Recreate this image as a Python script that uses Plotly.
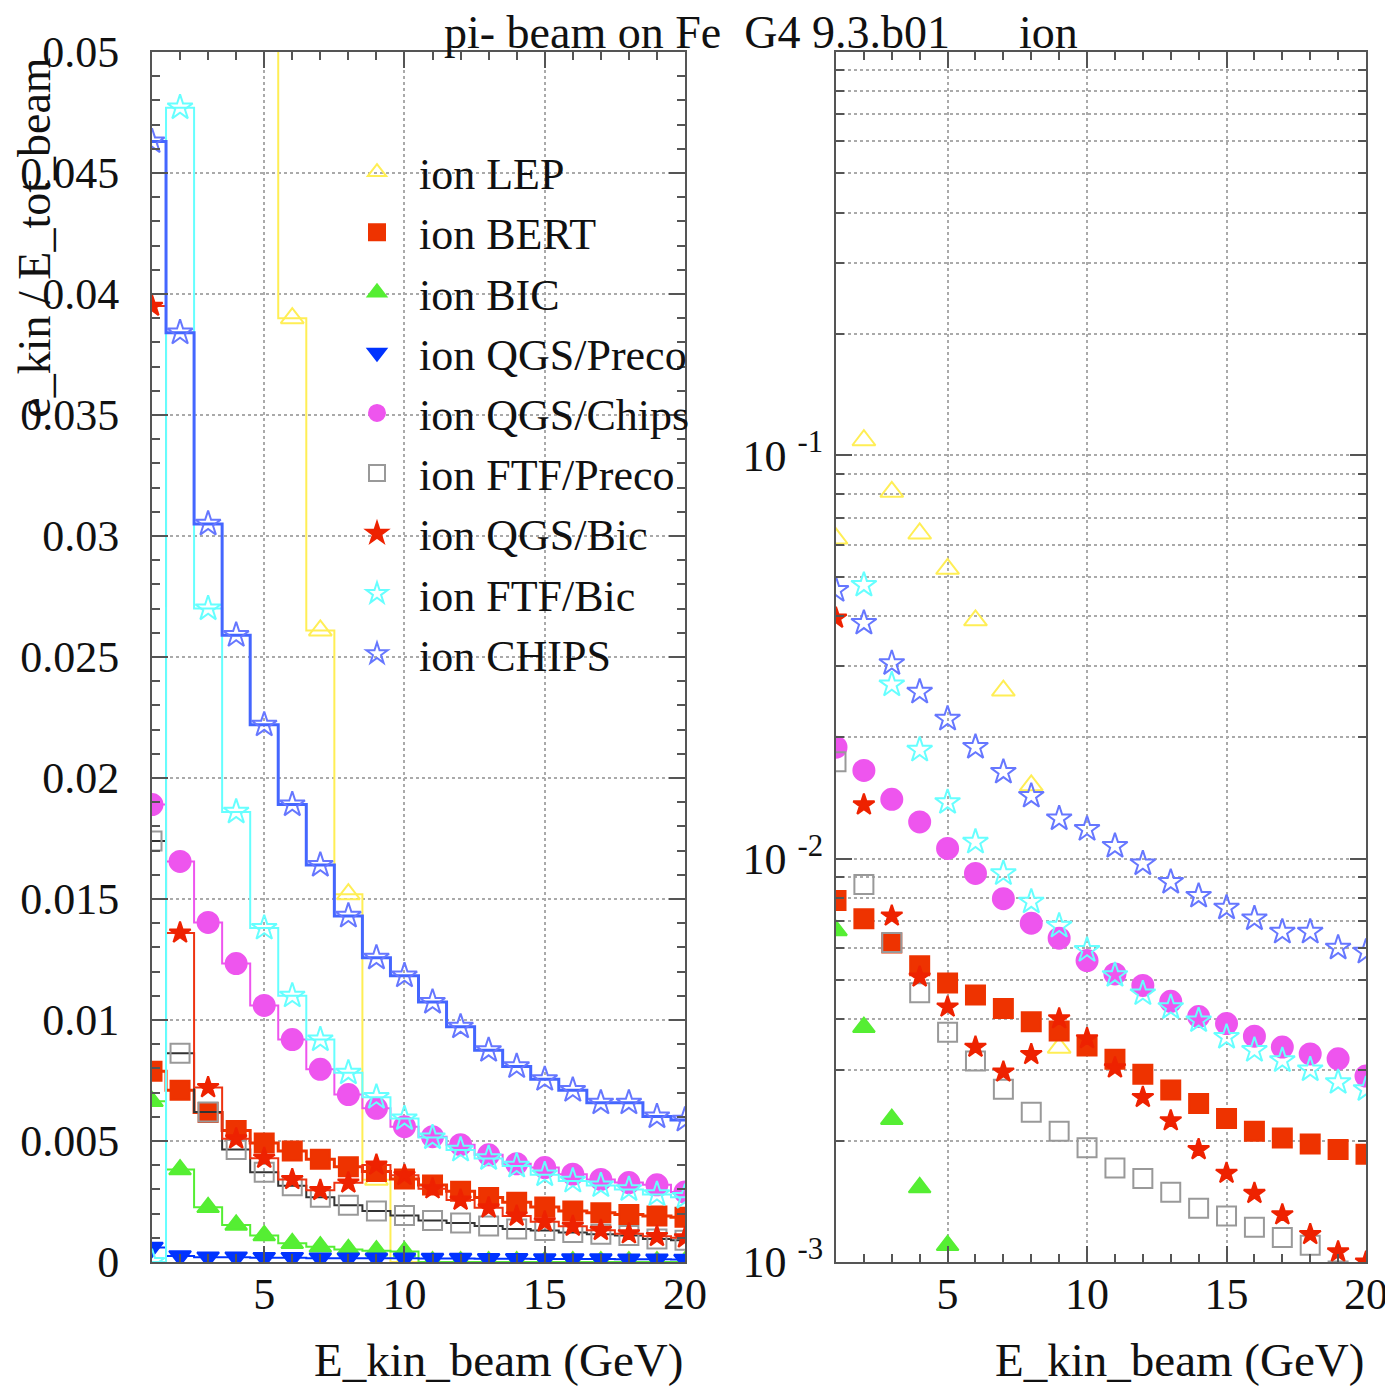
import plotly.graph_objects as go

# ---------------- data ----------------
E_kin = list(range(1, 21))

lep        = [0.0622, 0.109, 0.0812, 0.064, 0.0523, 0.039, 0.0261, 0.0152, 0.0034, 0, 0, 0, 0, 0, 0, 0, 0, 0, 0, 0]
bert       = [0.00788, 0.0071, 0.00618, 0.00543, 0.00492, 0.00459, 0.00425, 0.00394, 0.00374, 0.00343,
              0.00318, 0.00292, 0.00267, 0.00247, 0.00227, 0.00211, 0.00203, 0.00196, 0.0019, 0.00185]
bic        = [0.00664, 0.00382, 0.00226, 0.00153, 0.0011, 0.00077, 0.00063, 0.00052, 0.00047, 0.00043,
              0, 0, 0, 0, 0, 0, 0, 0, 0, 0]
qgs_preco  = [0.0006, 0.00025, 0.0002, 0.0002, 0.00018, 0.00018, 0.00016, 0.00016, 0.00015, 0.00015,
              0.00014, 0.00014, 0.00013, 0.00013, 0.00012, 0.00012, 0.00012, 0.00011, 0.00011, 0.0001]
qgs_chips  = [0.0189, 0.01655, 0.01403, 0.01233, 0.0106, 0.00919, 0.00796, 0.00692, 0.00635, 0.00559,
              0.00518, 0.00485, 0.00443, 0.00406, 0.0039, 0.00363, 0.00341, 0.00328, 0.00319, 0.00289]
ftf_preco  = [0.0174, 0.00863, 0.0062, 0.00465, 0.00371, 0.00315, 0.00268, 0.00235, 0.00211, 0.00192,
              0.00171, 0.00161, 0.00149, 0.00136, 0.0013, 0.00122, 0.00115, 0.0011, 0.00095, 0.0009]
qgs_bic    = [0.0395, 0.0136, 0.00721, 0.00509, 0.00429, 0.00341, 0.00296, 0.00327, 0.00401, 0.00358,
              0.00303, 0.00256, 0.00224, 0.0019, 0.00166, 0.00148, 0.00131, 0.00117, 0.00106, 0.001]
ftf_bic    = [0, 0.0477, 0.027, 0.0186, 0.0138, 0.011, 0.00919, 0.00782, 0.00681, 0.00593,
              0.00514, 0.00463, 0.00428, 0.00397, 0.00361, 0.00335, 0.00316, 0.003, 0.00279, 0.00268]
chips      = [0.0463, 0.0384, 0.0305, 0.0259, 0.0222, 0.0189, 0.0164, 0.0143, 0.01257, 0.01183,
              0.01074, 0.00972, 0.00875, 0.00808, 0.00755, 0.0071, 0.00658, 0.00658, 0.00601, 0.00587]

names = ["ion LEP", "ion BERT", "ion BIC", "ion QGS/Preco", "ion QGS/Chips",
         "ion FTF/Preco", "ion QGS/Bic", "ion FTF/Bic", "ion CHIPS"]
series = [lep, bert, bic, qgs_preco, qgs_chips, ftf_preco, qgs_bic, ftf_bic, chips]

lin_tickvals = [0, 0.005, 0.01, 0.015, 0.02, 0.025, 0.03, 0.035, 0.04, 0.045, 0.05]
lin_ticktext = ["0", "0.005", "0.01", "0.015", "0.02", "0.025", "0.03", "0.035", "0.04", "0.045", "0.05"]
log_tickvals = [0.001, 0.01, 0.1]
log_ticktext = ["10\u00a0<sup>-3</sup>", "10\u00a0<sup>-2</sup>", "10\u00a0<sup>-1</sup>"]
x_tickvals = [5, 10, 15, 20]

title_text = "pi- beam on Fe\u00a0\u00a0G4 9.3.b01\u00a0\u00a0\u00a0\u00a0\u00a0\u00a0ion"
xtitle = "E_kin_beam (GeV)"
ytitle = "e_kin / E_tot_beam"

# ---------------- styles ----------------
styles = [
    dict(symbol="triangle-up-open", mcolor="#ffee55", lcolor="#ffee55", size=20),
    dict(symbol="square", mcolor="#ee3300", lcolor="#ee3300", size=19),
    dict(symbol="triangle-up", mcolor="#55ee33", lcolor="#55ee33", size=19),
    dict(symbol="triangle-down", mcolor="#0033ff", lcolor="#0033ff", size=19),
    dict(symbol="circle", mcolor="#ee55ee", lcolor="#ee55ee", size=21),
    dict(symbol="square-open", mcolor="#999999", lcolor="#333333", size=19),
    dict(symbol="star", mcolor="#ee2200", lcolor="#ee3311", size=16),
    dict(symbol="star-open", mcolor="#66ffff", lcolor="#66ffff", size=19),
    dict(symbol="star-open", mcolor="#6677ff", lcolor="#4466ff", size=19),
]
lwidths = [2, 3, 2, 2, 2, 2, 2, 2, 3]

# page body has an 8 px margin: the figure starts at (8, 8) in the window
OFF = 8
W, H = 1393 - OFF, 1388 - OFF
FONT = "Liberation Serif"


def px(x):
    return (x - OFF) / W


def py(y):
    return 1 - (y - OFF) / H


fig = go.Figure()

# left panel: step histograms with markers
for name, vals, st, lw in zip(names, series, styles, lwidths):
    fig.add_trace(go.Scatter(
        x=E_kin, y=vals, mode="lines+markers", line_shape="hvh",
        line=dict(color=st["lcolor"], width=lw),
        marker=dict(symbol=st["symbol"], color=st["mcolor"], size=st["size"],
                    line=dict(color=st["mcolor"], width=2)),
        name=name, showlegend=False, xaxis="x", yaxis="y"))

# right panel: markers only, log scale (legend taken from these)
for name, vals, st in zip(names, series, styles):
    yv = [v if v > 0 else None for v in vals]
    fig.add_trace(go.Scatter(
        x=E_kin, y=yv, mode="markers",
        marker=dict(symbol=st["symbol"], color=st["mcolor"], size=st["size"],
                    line=dict(color=st["mcolor"], width=2)),
        name=name, showlegend=True, legendgroup=name, xaxis="x2", yaxis="y2"))

axis_common = dict(
    showline=True, linecolor="#555555", linewidth=2, mirror="allticks",
    ticks="inside", tickcolor="#555555", ticklen=16, tickwidth=1.5,
    showgrid=True, gridcolor="#aaaaaa", griddash="dot", gridwidth=1.5,
    zeroline=False, automargin=False, tickfont=dict(family=FONT, size=44, color="#111111"),
)

x_dom_left = [px(152), px(685)]
x_dom_right = [px(836), px(1366)]
y_dom = [py(1262), py(52)]

fig.update_layout(
    width=W, height=H,
    margin=dict(l=0, r=0, t=0, b=0, pad=0, autoexpand=False),
    paper_bgcolor="white", plot_bgcolor="white",
    font=dict(family=FONT, size=44, color="#111111"),
    xaxis=dict(domain=x_dom_left, range=[1, 20], tickvals=x_tickvals, anchor="y",
               ticklabelstandoff=-8,
               minor=dict(dtick=1, tick0=0, ticks="inside", ticklen=8, tickcolor="#555555", showgrid=False),
               **axis_common),
    yaxis=dict(domain=y_dom, range=[0, 0.05], tickvals=lin_tickvals, ticktext=lin_ticktext, anchor="x",
               ticklabelstandoff=22,
               minor=dict(dtick=0.001, tick0=0, ticks="inside", ticklen=8, tickcolor="#555555", showgrid=False),
               **axis_common),
    xaxis2=dict(domain=x_dom_right, range=[1, 20], tickvals=x_tickvals, anchor="y2",
                ticklabelstandoff=-8,
                minor=dict(dtick=1, tick0=0, ticks="inside", ticklen=8, tickcolor="#555555", showgrid=False),
                **axis_common),
    yaxis2=dict(domain=y_dom, type="log", range=[-3, 0], tickvals=log_tickvals, ticktext=log_ticktext,
                anchor="x2", ticklabelstandoff=2,
                minor=dict(tickvals=[m * d for d in (0.001, 0.01, 0.1) for m in range(2, 10)],
                           ticks="inside", ticklen=8, tickcolor="#555555",
                           showgrid=True, gridcolor="#aaaaaa", griddash="dot", gridwidth=1.5),
                **axis_common),
    legend=dict(x=px(335), y=py(137), xanchor="left", yanchor="top",
                bgcolor="rgba(0,0,0,0)", font=dict(family=FONT, size=44, color="#111111"),
                itemwidth=74, tracegroupgap=0),
    showlegend=True,
)

fig.add_annotation(text=title_text, xref="paper", yref="paper", x=px(761), y=py(32),
                   xanchor="center", yanchor="middle", showarrow=False,
                   font=dict(family=FONT, size=46, color="#111111"))
fig.add_annotation(text=xtitle, xref="x domain", yref="paper", x=1, y=py(1360),
                   xanchor="right", yanchor="middle", showarrow=False,
                   font=dict(family=FONT, size=47, color="#111111"))
fig.add_annotation(text=xtitle, xref="x2 domain", yref="paper", x=1, y=py(1360),
                   xanchor="right", yanchor="middle", showarrow=False,
                   font=dict(family=FONT, size=47, color="#111111"))
fig.add_annotation(text=ytitle, xref="paper", yref="y domain", x=px(35), y=0.997,
                   xanchor="center", yanchor="top", textangle=-90, showarrow=False,
                   font=dict(family=FONT, size=46, color="#111111"))

fig.write_html("out.html")
